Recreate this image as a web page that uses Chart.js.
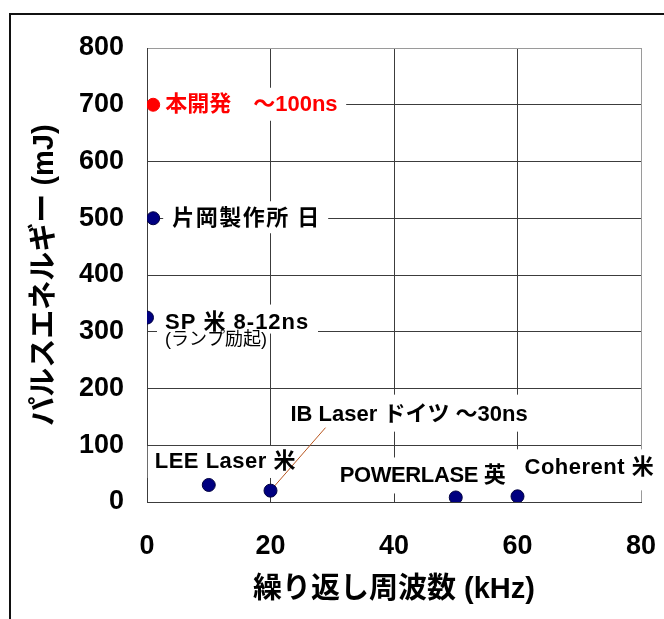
<!DOCTYPE html>
<html>
<head>
<meta charset="utf-8">
<script src="https://cdn.jsdelivr.net/npm/chart.js@4/dist/chart.umd.min.js"></script>
<style>
  html, body { margin:0; padding:0; background:#fff; overflow:hidden; }
  #wrap { position:relative; width:664px; height:619px; }
  #frame { position:absolute; left:9px; top:13px; width:700px; height:700px;
           border-left:2px solid #111; border-top:2px solid #111; }
  canvas { position:absolute; left:0; top:0; }
</style>
</head>
<body>
<div id="wrap">
  <div id="frame"></div>
  <canvas id="c" width="664" height="619"></canvas>
</div>
<script>
// ---- data ----
const names = ['本開発　～100ns', '片岡製作所 日', 'SP 米 8-12ns', 'LEE Laser 米', 'IB Laser ドイツ ～30ns', 'POWERLASE 英', 'Coherent 米'];
const subNames = ['', '', '(ランプ励起)', '', '', '', ''];
const freqKHz = [1, 1, 0, 10, 20, 50, 60];
const energyMJ = [700, 500, 325, 30, 20, 8, 10];
const xTickValues = [0, 20, 40, 60, 80];
const yTickValues = [0, 100, 200, 300, 400, 500, 600, 700, 800];
const xTitle = '繰り返し周波数 (kHz)';
const yTitle = 'パルスエネルギー (mJ)';

// ---- styles / label layout (offsets from each point, px) ----
const pointColors = ['#ff0000', '#000080', '#000080', '#000080', '#000080', '#000080', '#000080'];
const labelColors = ['#ff0000', '#000', '#000', '#000', '#000', '#000', '#000'];
const labelLayout = [
  { tx: 12, ty: 0,   ls: 0,   box: [5, 193, -17, 16] },
  { tx: 19, ty: 1,   ls: 1.5, box: [10, 175, -17, 15] },
  { tx: 18, ty: 5,   ls: 1,   sx: 18, sy: 22, box: [10, 171, -13, 16] },
  { tx: -54, ty: -23, ls: 0.5, box: [-61, 94, -39, -7] },
  { tx: 20, ty: -76, ls: 0,   box: [12, 262, -96, -59], leader: [55, -63] },
  { tx: -116, ty: -22, ls: -0.4, box: [-123, 56, -40, -4] },
  { tx: 7, ty: -28,  ls: 0.5, box: [-6, 153, -47, -6] }
];
const FONT = "'Liberation Sans', 'Noto Sans CJK JP', sans-serif";

const labelPlugin = {
  id: 'pointLabels',
  beforeDatasetsDraw(chart) {
    const ctx = chart.ctx, xs = chart.scales.x, ys = chart.scales.y;
    ctx.save();
    const pts = freqKHz.map((f, i) => [xs.getPixelForValue(f), ys.getPixelForValue(energyMJ[i])]);
    ctx.fillStyle = '#fff';
    labelLayout.forEach((L, i) => {
      const [px, py] = pts[i];
      ctx.fillRect(px + L.box[0], py + L.box[2], L.box[1] - L.box[0], L.box[3] - L.box[2]);
    });
    labelLayout.forEach((L, i) => {
      if (!L.leader) return;
      const [px, py] = pts[i];
      ctx.strokeStyle = '#b8561f';
      ctx.lineWidth = 1;
      ctx.beginPath();
      ctx.moveTo(px, py);
      ctx.lineTo(px + L.leader[0], py + L.leader[1]);
      ctx.stroke();
    });
    ctx.textBaseline = 'middle';
    ctx.textAlign = 'left';
    labelLayout.forEach((L, i) => {
      const [px, py] = pts[i];
      ctx.fillStyle = labelColors[i];
      ctx.font = 'bold 22px ' + FONT;
      if ('letterSpacing' in ctx) ctx.letterSpacing = L.ls + 'px';
      ctx.fillText(names[i], px + L.tx, py + L.ty);
      if ('letterSpacing' in ctx) ctx.letterSpacing = '0px';
      if (subNames[i]) {
        ctx.font = '18px ' + FONT;
        ctx.fillText(subNames[i], px + L.sx, py + L.sy);
      }
    });
    ctx.restore();
  }
};

const tickFont = { family: FONT, size: 27, weight: 'bold' };
const titleFont = { family: FONT, size: 29, weight: 'bold' };

new Chart(document.getElementById('c'), {
  type: 'scatter',
  data: {
    datasets: [{
      data: freqKHz.map((f, i) => ({ x: f, y: energyMJ[i] })),
      pointRadius: 6.5,
      pointBackgroundColor: pointColors,
      pointBorderColor: pointColors.map(c => c === '#ff0000' ? '#ff0000' : '#000040'),
      pointBorderWidth: 1,
      showLine: false
    }]
  },
  options: {
    responsive: false,
    animation: false,
    events: [],
    layout: { padding: { left: 0, right: 23, top: 48, bottom: 0 } },
    plugins: { legend: { display: false }, tooltip: { enabled: false } },
    scales: {
      x: {
        type: 'linear', min: 0, max: 80,
        afterBuildTicks: s => { s.ticks = xTickValues.map(v => ({ value: v })); },
        afterFit: s => { s.height = 117; s.paddingLeft = 0; s.paddingRight = 0; },
        grid: { color: c => (c.tick && c.tick.value === 80) ? '#9a9a9a' : '#3c3c3c', lineWidth: 1, drawTicks: false },
        border: { color: '#3c3c3c', width: 1 },
        ticks: { color: '#000', font: tickFont, padding: 28, maxRotation: 0 },
        title: { display: true, text: xTitle, color: '#000', font: titleFont, padding: { top: 0, bottom: 12 } }
      },
      y: {
        type: 'linear', min: 0, max: 800,
        afterBuildTicks: s => { s.ticks = yTickValues.map(v => ({ value: v })); },
        afterFit: s => { s.width = 147; s.paddingTop = 0; s.paddingBottom = 0; },
        grid: { color: c => (c.tick && c.tick.value === 800) ? '#9a9a9a' : '#3c3c3c', lineWidth: 1, drawTicks: false },
        border: { color: '#3c3c3c', width: 1 },
        ticks: { color: '#000', font: tickFont, padding: 23 },
        title: { display: true, text: yTitle, color: '#000', font: titleFont, padding: { top: 28, bottom: 0 } }
      }
    }
  },
  plugins: [labelPlugin]
});
</script>
</body>
</html>
